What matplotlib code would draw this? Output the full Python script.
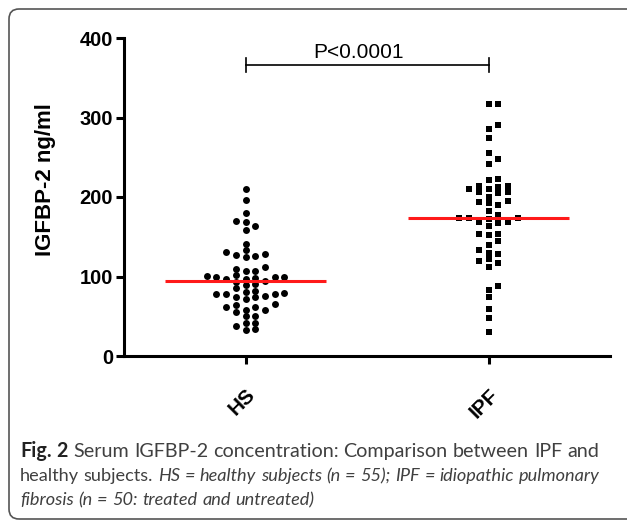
import matplotlib
matplotlib.use("Agg")
import matplotlib.pyplot as plt
import numpy as np
from matplotlib.patches import FancyBboxPatch
from matplotlib.transforms import IdentityTransform

# data
groups = ["HS", "IPF"]
hs_values = [210, 196, 180, 169, 163.5, 169.4, 158, 141, 131, 127, 124, 126, 128, 133,
             112, 107, 107, 109, 100.6, 99.4, 97.7, 96.9, 93.5, 89.3, 90.2, 94.7, 97.3,
             99.4, 99.4, 101.5, 85.1, 80.5, 78, 74.6, 78, 71.7, 75.9, 78, 78.8, 73.8, 82.2,
             62, 57.9, 63.7, 65, 55.3, 57.9, 62, 41.9, 50.7, 37.7, 50.3, 32.7, 34, 41.1]
ipf_values = [316.6, 317, 291, 286, 273.8, 255, 247.4, 241.5, 222.2, 221.4, 213.8, 209.6,
              205.8, 205.4, 205.8, 209.6, 213, 213.8, 200.4, 194.6, 192, 189.6, 193.7,
              182.4, 177, 174, 174, 169, 166.9, 163.9, 168.6, 172.3, 174, 153, 144.7,
              151.8, 153.5, 139.2, 129.6, 128, 133, 119, 112, 117.4, 121.6, 88, 83, 73.8,
              58.7, 47.4, 30.6]
medians = [94, 174]
p_label = "P<0.0001"
y_ticks = [0, 100, 200, 300, 400]
ylabel = "IGFBP-2 ng/ml"

# (text, weight, style)
caption = [
    [("Fig. 2", "bold", "normal"),
     ("Serum IGFBP-2 concentration: Comparison between IPF and", "normal", "normal")],
    [("healthy subjects.", "normal", "normal"),
     ("HS = healthy subjects (n = 55); IPF = idiopathic pulmonary", "normal", "italic")],
    [("fibrosis (n = 50: treated and untreated)", "normal", "italic")],
]


def swarm_offsets(values, step, gap):
    # greedy column placement, lowest values first, centre then right/left
    values = np.asarray(values, dtype=float)
    placed = {}
    offs = np.zeros(len(values))
    for i in np.argsort(values, kind="stable"):
        v = values[i]
        for n in range(60):
            col = (n + 1) // 2 * (1 if n % 2 else -1)
            if all(abs(v - y) >= gap for y in placed.get(col, [])):
                break
        placed.setdefault(col, []).append(v)
        offs[i] = col * step
    return offs


W, H = 627, 523
fig = plt.figure(figsize=(W / 100, H / 100), dpi=100)

# rounded frame around figure + caption
frame = FancyBboxPatch((9, 4), 640, H - 13, boxstyle="round,pad=0,rounding_size=10",
                       transform=IdentityTransform(), fill=False, edgecolor="#555555",
                       linewidth=1.2)
fig.patches.append(frame)

ax = fig.add_axes([124 / W, 167 / H, 486 / W, 318 / H])
ax.set_xlim(-0.5, 1.5)
ax.set_ylim(0, 400)

markers = ["o", "s"]
for i, vals in enumerate([hs_values, ipf_values]):
    x = i + swarm_offsets(vals, 0.04, 7.5)
    ax.plot(x, vals, linestyle="none", marker=markers[i], color="black",
            markersize=5.0, markeredgewidth=0, zorder=3)
    ax.plot([i - 0.33, i + 0.33], [medians[i], medians[i]], color="#ff1a1a",
            linewidth=2.2, zorder=4, solid_capstyle="butt")

# significance bracket
yb, cap = 366, 9
ax.plot([0, 1], [yb, yb], color="black", lw=1.2)
ax.plot([0, 0], [yb - cap, yb + cap], color="black", lw=1.2)
ax.plot([1, 1], [yb - cap, yb + cap], color="black", lw=1.2)
ax.text(0.467, 375, p_label, ha="center", va="baseline", fontsize=15,
        family="Liberation Sans")

for s in ["top", "right"]:
    ax.spines[s].set_visible(False)
for s in ["left", "bottom"]:
    ax.spines[s].set_linewidth(2.2)

ax.set_yticks(y_ticks)
ax.set_xticks([0, 1])
ax.set_xticklabels(groups, rotation=45, ha="right", va="top", rotation_mode="anchor",
                   fontsize=15, fontweight="bold", family="Liberation Sans")
ax.set_yticklabels([str(t) for t in y_ticks], fontsize=14.5, fontweight="bold",
                   family="Liberation Sans")
ax.tick_params(direction="out", length=6, width=2.2, pad=2)
ax.tick_params(axis="x", pad=15)

fig.text(46 / W, 1 - 180 / H, ylabel, rotation=90, ha="center", va="center",
         fontsize=16, fontweight="bold", family="Liberation Sans")

# caption, word by word so each line can be fitted to the text block width
cap_font = "Lato"
renderer = fig.canvas.get_renderer()


def seg_width(s, size, weight="normal", style="normal"):
    t = fig.text(0, 0, s, fontsize=size, fontweight=weight, fontstyle=style,
                 family=cap_font, transform=IdentityTransform())
    w = t.get_window_extent(renderer).width
    t.remove()
    return w


def space_width(size):
    return seg_width("a a", size) - seg_width("aa", size)


def words_of(line):
    return [(w, wt, st) for text, wt, st in line for w in text.split(" ")]


def natural_width(line, size):
    ws = words_of(line)
    return sum(seg_width(w, size, wt, st) for w, wt, st in ws) + space_width(size) * (len(ws) - 1)


x0 = 20
target = 577
base = 12
sizes = [base * target / natural_width(caption[0], base),
         base * target / natural_width(caption[1], base)]
sizes.append(sizes[1])

baselines = [H - 457, H - 481, H - 505]
for line, fs, yb_px in zip(caption, sizes, baselines):
    xpos = x0
    sp = space_width(fs)
    for w, wt, st in words_of(line):
        color = "#222222" if wt == "bold" else "#404040"
        t = fig.text(xpos, yb_px, w, fontsize=fs, fontweight=wt, fontstyle=st,
                     family=cap_font, color=color, transform=IdentityTransform(),
                     va="baseline")
        xpos += t.get_window_extent(renderer).width + sp

fig.savefig("out.png", dpi=100)
